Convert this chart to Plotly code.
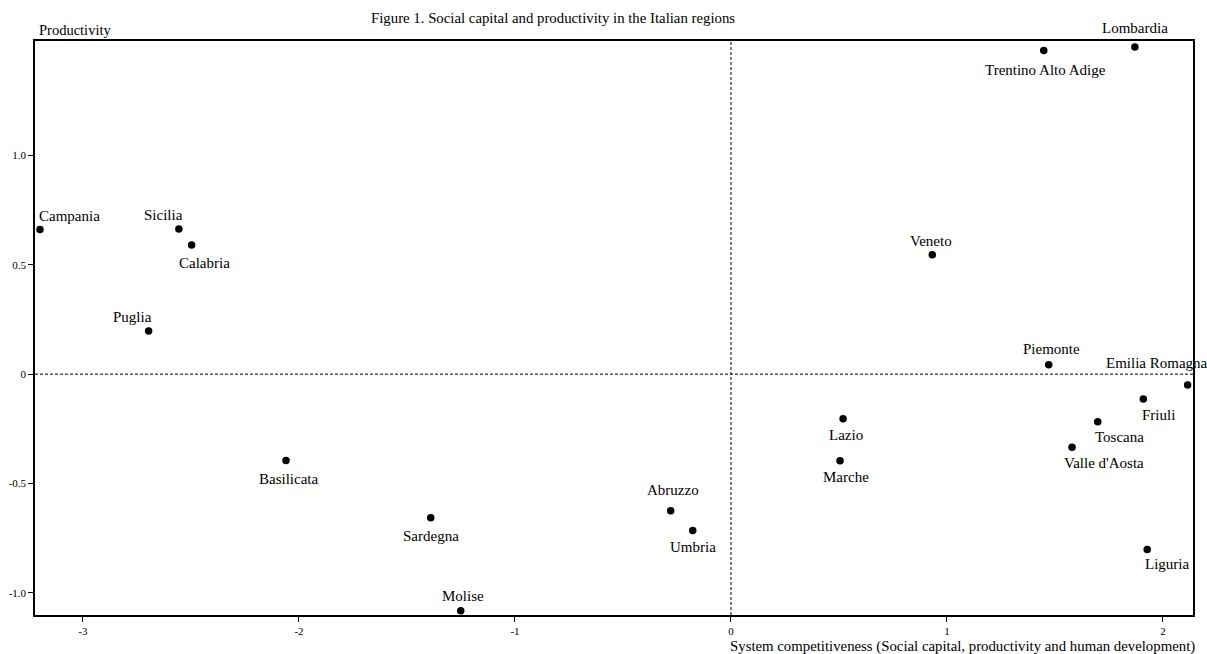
import plotly.graph_objects as go

regions = ["Campania", "Sicilia", "Calabria", "Puglia", "Basilicata", "Sardegna", "Molise",
           "Abruzzo", "Umbria", "Lazio", "Marche", "Veneto", "Piemonte", "Emilia Romagna",
           "Friuli", "Toscana", "Valle d'Aosta", "Liguria", "Trentino Alto Adige", "Lombardia"]
competitiveness = [-3.199, -2.556, -2.497, -2.696, -2.060, -1.390, -1.251,
                   -0.279, -0.177, 0.519, 0.505, 0.932, 1.471, 2.114,
                   1.909, 1.698, 1.579, 1.927, 1.448, 1.870]
productivity = [0.661, 0.663, 0.591, 0.197, -0.395, -0.656, -1.081,
                -0.624, -0.715, -0.204, -0.396, 0.546, 0.043, -0.049,
                -0.114, -0.218, -0.334, -0.801, 1.480, 1.496]
x_ticks = [-3, -2, -1, 0, 1, 2]
y_ticks = [-1.0, -0.5, 0, 0.5, 1.0]
y_tick_labels = ["-1.0", "-0.5", "0", "0.5", "1.0"]

# label offsets in pixels (dx, dy: positive dy = up)
label_offsets = {
    "Campania": (30, 14), "Sicilia": (-15, 14), "Calabria": (13, -18), "Puglia": (-16, 14),
    "Basilicata": (2, -18), "Sardegna": (0, -18), "Molise": (2, 15), "Abruzzo": (2, 21),
    "Umbria": (0, -16), "Lazio": (3, -16), "Marche": (6, -16), "Veneto": (-1, 14),
    "Piemonte": (3, 16), "Emilia Romagna": (-31, 22), "Friuli": (15, -16),
    "Toscana": (22, -15), "Valle d'Aosta": (32, -16), "Liguria": (20, -15),
    "Trentino Alto Adige": (2, -20), "Lombardia": (0, 19),
}

FONT = "Liberation Serif, Times New Roman, serif"
PW, PH = 1158, 574

fig = go.Figure()
fig.add_trace(go.Scatter(
    x=competitiveness, y=productivity, mode="markers",
    marker=dict(color="black", size=7.5, symbol="circle"),
    cliponaxis=False, hoverinfo="text", text=regions, showlegend=False,
))

for name, xv, yv in zip(regions, competitiveness, productivity):
    dx, dy = label_offsets[name]
    fig.add_annotation(x=xv, y=yv, text=name, showarrow=False, xshift=dx, yshift=dy,
                       xanchor="center", yanchor="middle",
                       font=dict(family=FONT, size=15, color="black"))

fig.add_shape(type="line", xref="x", yref="paper", x0=0, x1=0, y0=0, y1=1,
              line=dict(color="black", width=1, dash="3px,2px"))
fig.add_shape(type="line", xref="paper", yref="y", x0=0, x1=1, y0=0, y1=0,
              line=dict(color="black", width=1, dash="3px,2px"))

fig.add_annotation(text="Figure 1. Social capital and productivity in the Italian regions",
                   xref="paper", yref="paper", x=(553 - 35) / PW, y=1 + (41 - 18) / PH,
                   xanchor="center", yanchor="middle",
                   showarrow=False, font=dict(family=FONT, size=14.8, color="black"))
fig.add_annotation(text="Productivity", xref="paper", yref="paper", x=(37 - 35) / PW,
                   y=1 + (41 - 30) / PH, xanchor="left", yanchor="middle",
                   showarrow=False, font=dict(family=FONT, size=14.5, color="black"))
fig.add_annotation(text="System competitiveness (Social capital, productivity and human development)",
                   xref="paper", yref="paper", x=1 + 4 / PW, y=-(646 - 615) / PH,
                   xanchor="right", yanchor="middle",
                   showarrow=False, font=dict(family=FONT, size=14.8, color="black"))

fig.update_layout(
    width=1207, height=654,
    margin=dict(l=35, r=14, t=41, b=39),
    plot_bgcolor="white", paper_bgcolor="white",
    font=dict(family=FONT, color="black"),
    xaxis=dict(range=[-3.222, 2.139], tickvals=x_ticks, ticktext=[str(v) for v in x_ticks],
               showgrid=False, zeroline=False, showline=True, linecolor="black", linewidth=1.5,
               mirror=True, ticks="outside", ticklen=5, tickcolor="black", automargin=False,
               tickfont=dict(family=FONT, size=11, color="black")),
    yaxis=dict(range=[-1.101, 1.523], tickvals=y_ticks, ticktext=y_tick_labels,
               showgrid=False, zeroline=False, showline=True, linecolor="black", linewidth=1.5,
               mirror=True, ticks="outside", ticklen=5, tickcolor="black", automargin=False,
               tickfont=dict(family=FONT, size=11, color="black")),
)

fig.write_html("out.html", config={"displayModeBar": False},
               post_script="document.body.style.margin='0';")
